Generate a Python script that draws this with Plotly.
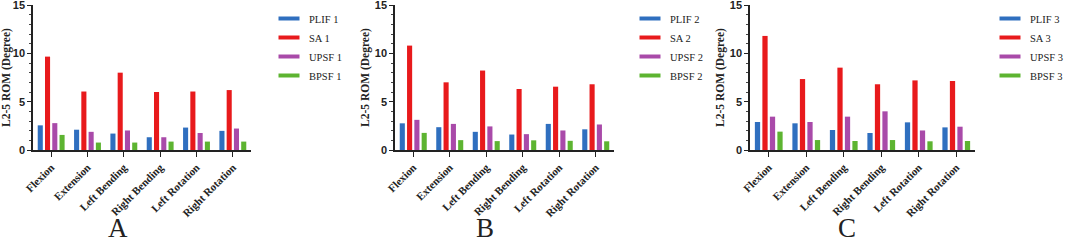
import plotly.graph_objects as go

categories = ["Flexion", "Extension", "Left Bending", "Right Bending", "Left Rotation", "Right Rotation"]
groups = ["PLIF", "SA", "UPSF", "BPSF"]
colors = ["#2f6fbf", "#e81a1c", "#a94aa9", "#5db431"]
panel_letters = ["A", "B", "C"]

# panel 1
plif1 = [2.55, 2.1, 1.7, 1.32, 2.32, 1.98]
sa1 = [9.66, 6.05, 8.0, 6.0, 6.05, 6.2]
upsf1 = [2.78, 1.88, 2.02, 1.32, 1.76, 2.22]
bpsf1 = [1.56, 0.77, 0.77, 0.87, 0.87, 0.87]
# panel 2
plif2 = [2.76, 2.36, 1.88, 1.6, 2.7, 2.14]
sa2 = [10.8, 7.0, 8.22, 6.31, 6.55, 6.8]
upsf2 = [3.12, 2.7, 2.44, 1.64, 2.02, 2.64]
bpsf2 = [1.77, 1.02, 0.92, 1.0, 0.95, 0.9]
# panel 3
plif3 = [2.9, 2.76, 2.07, 1.76, 2.86, 2.34]
sa3 = [11.8, 7.34, 8.52, 6.8, 7.2, 7.14]
upsf3 = [3.45, 2.9, 3.45, 4.0, 2.02, 2.41]
bpsf3 = [1.9, 1.03, 0.93, 1.03, 0.9, 0.93]

panels = [[plif1, sa1, upsf1, bpsf1], [plif2, sa2, upsf2, bpsf2], [plif3, sa3, upsf3, bpsf3]]

W, H = 1065, 243
x_px = [(33, 251), (395, 614), (750, 975)]
y_top, y_bot = 5, 150
legend_x = [269, 630, 990]

fig = go.Figure()
for p, series in enumerate(panels):
    xa = "x" if p == 0 else f"x{p+1}"
    ya = "y" if p == 0 else f"y{p+1}"
    lg = "legend" if p == 0 else f"legend{p+1}"
    for g, vals in enumerate(series):
        name = f"{groups[g]} {p+1}"
        fig.add_trace(go.Bar(x=categories, y=vals, name=name, marker_color=colors[g],
                             marker_line_width=0, xaxis=xa, yaxis=ya,
                             legendgroup=name, showlegend=False))
        fig.add_trace(go.Scatter(x=[None], y=[None], mode="markers", name=name,
                                 marker=dict(symbol="line-ew", size=15, color=colors[g],
                                             line=dict(color=colors[g], width=4)),
                                 xaxis=xa, yaxis=ya,
                                 legend=lg, legendgroup=name, showlegend=True))

layout = dict(width=W, height=H, margin=dict(l=0, r=0, t=0, b=0, autoexpand=False),
              paper_bgcolor="white", plot_bgcolor="white",
              barmode="group", bargap=0.2, bargroupgap=0.3, annotations=[])
for p in range(3):
    sx = "" if p == 0 else str(p+1)
    x0, x1 = x_px[p]
    layout[f"xaxis{sx}"] = dict(domain=[x0 / W, x1 / W], anchor=f"y{sx}",
                                showline=True, linecolor="#222", linewidth=1.5,
                                ticks="outside", ticklen=5, tickcolor="#222", tickwidth=1.2,
                                tickangle=-45, showgrid=False, zeroline=False,
                                tickfont=dict(family="Liberation Serif", size=11, color="#222", weight="bold"))
    layout[f"yaxis{sx}"] = dict(domain=[1 - y_bot / H, 1 - y_top / H], anchor=f"x{sx}",
                                range=[0, 15], tickvals=[0, 5, 10, 15], ticklabeloverflow="allow",
                                showline=True, linecolor="#222", linewidth=1.5,
                                ticks="outside", ticklen=4, tickcolor="#222", tickwidth=1.2,
                                minor=dict(dtick=1, ticks="outside", ticklen=2.5, tickcolor="#444", tickwidth=1),
                                showgrid=False, zeroline=False,
                                tickfont=dict(family="Liberation Sans", size=11, color="#222", weight="bold"),
                                title=dict(text="L2-5 ROM (Degree)", standoff=3,
                                           font=dict(family="Liberation Serif", size=11.5, color="#222", weight="bold")))
    lg = "legend" if p == 0 else f"legend{p+1}"
    layout[lg] = dict(x=legend_x[p] / W, y=1 - 4 / H, xanchor="left", yanchor="top",
                      font=dict(family="Liberation Serif", size=10.5, color="#222"),
                      tracegroupgap=0, bgcolor="rgba(0,0,0,0)", itemsizing="trace")
    layout["annotations"].append(dict(text=panel_letters[p], xref="paper", yref="paper",
                                      x=[118, 485, 847][p] / W, y=1 - 228 / H,
                                      showarrow=False, xanchor="center", yanchor="middle",
                                      font=dict(family="Liberation Serif", size=27, color="#222")))
fig.update_layout(**layout)
fig.write_html("out.html", config={"displayModeBar": False},
               post_script="document.body.style.margin='0';document.body.style.padding='0';")
